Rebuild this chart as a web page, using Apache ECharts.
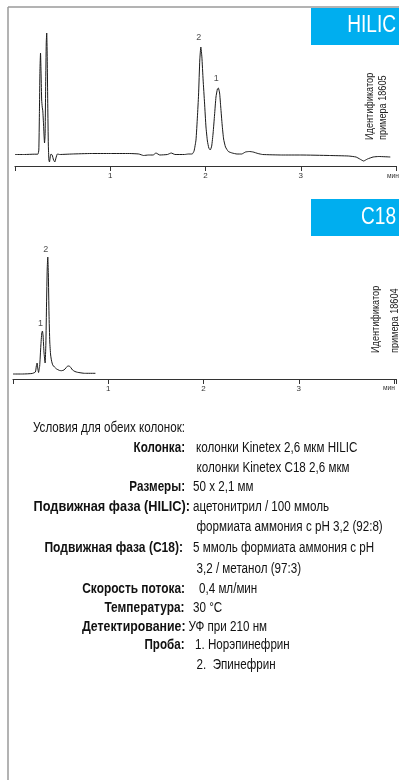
<!DOCTYPE html>
<html>
<head>
<meta charset="utf-8">
<script src="https://cdn.jsdelivr.net/npm/echarts@6/dist/echarts.min.js"></script>
<style>
  html, body { margin: 0; padding: 0; background: #fff; }
  #chart { width: 399px; height: 780px; }
</style>
</head>
<body>
<div id="chart"></div>
<script>
// HILIC chromatogram: retention time (min) and detector response
const hilicTime = [0.0, 0.1, 0.2, 0.24, 0.25, 0.256, 0.262, 0.268, 0.274, 0.28, 0.286, 0.292, 0.3, 0.31,
  0.316, 0.322, 0.328, 0.333, 0.338, 0.344, 0.35, 0.356, 0.362, 0.37, 0.378, 0.39, 0.405, 0.418, 0.43,
  0.445, 0.47, 0.6, 0.8, 1.0, 1.2, 1.3, 1.35, 1.4, 1.45, 1.48, 1.52, 1.6, 1.64, 1.68, 1.78, 1.82, 1.86,
  1.88, 1.9, 1.915, 1.927, 1.94, 1.951, 1.962, 1.975, 1.99, 2.005, 2.02, 2.035, 2.05, 2.065, 2.08, 2.095,
  2.11, 2.125, 2.135, 2.148, 2.16, 2.175, 2.19, 2.21, 2.24, 2.28, 2.33, 2.38, 2.42, 2.46, 2.5, 2.55, 2.6,
  2.8, 3.0, 3.3, 3.5, 3.58, 3.62, 3.66, 3.7, 3.76, 3.82, 3.94];
const hilicSignal = [0.5, 0.5, 0.8, 0.8, 5, 40, 85, 102, 80, 55, 48, 44, 30, 12,
  20, 70, 112, 122, 100, 50, 10, -5, -7, -2, 1, 0, -5, -7, -3,
  1, 0.5, 1, 1.5, 1.5, 1.5, 1, -0.5, 0, 0, 2, 0, 0.5, 2, 0.5, 0.5, 1, 1,
  4, 15, 38, 60, 95, 108, 98, 75, 52, 28, 14, 7, 5, 9, 22, 40,
  58, 66, 67, 62, 48, 30, 16, 8, 3.5, 2, 1, 1, 3, 3.5, 3, 1.5, 0.5,
  0, 0, -0.5, -1, -2, -4, -6, -4, -2, -1.5, -2];

// C18 chromatogram
const c18Time = [0.0, 0.1, 0.2, 0.235, 0.245, 0.253, 0.26, 0.268, 0.28, 0.292, 0.302, 0.309, 0.316,
  0.325, 0.337, 0.345, 0.352, 0.359, 0.365, 0.371, 0.378, 0.386, 0.395, 0.405, 0.417, 0.435, 0.458,
  0.49, 0.51, 0.535, 0.555, 0.575, 0.59, 0.61, 0.625, 0.65, 0.677, 0.75, 0.865];
const c18Signal = [0, 0, 0.5, 2, 8, 11, 6, 1.5, 8, 28, 41, 43, 38,
  22, 11, 30, 70, 105, 117, 100, 60, 32, 19, 13, 9, 7, 5,
  3.5, 3.3, 4, 6, 8, 8, 6, 4, 2.5, 1.7, 0.7, 0.7];

// Peak numbering: 1 = норэпинефрин, 2 = эпинефрин
const hilicPeakNames = ['2', '1'];
const hilicPeakTimes = [1.951, 2.135];
const hilicPeakHeights = [108, 67];
const c18PeakNames = ['1', '2'];
const c18PeakTimes = [0.309, 0.365];
const c18PeakHeights = [43, 117];

const timeTicks = [1, 2, 3];
const timeUnit = 'мин';

const conditionLabels = ['Колонка:', 'Размеры:', 'Подвижная фаза (HILIC):', 'Подвижная фаза (C18):',
  'Скорость потока:', 'Температура:', 'Детектирование:', 'Проба:'];
const conditionValues = [
  ['колонки Kinetex 2,6 мкм HILIC', 'колонки Kinetex C18 2,6 мкм'],
  ['50 x 2,1 мм'],
  ['ацетонитрил / 100 ммоль', 'формиата аммония с pH 3,2 (92:8)'],
  ['5 ммоль формиата аммония с pH', '3,2 / метанол (97:3)'],
  ['0,4 мл/мин'],
  ['30 °C'],
  ['УФ при 210 нм'],
  ['1. Норэпинефрин', '2.  Эпинефрин']
];

const zip = (a, b) => a.map((v, i) => [v, b[i]]);
const peaks = (t, h, n) => t.map((v, i) => [v, h[i], n[i]]);

const SANS = "'Liberation Sans', Arial, sans-serif";
const BLUE = '#00aeef';
const CONDENSE = 0.83;   // condensed typesetting of the captions

function axisX(gridIndex, max) {
  return {
    type: 'value', gridIndex, min: 0, max, interval: 1,
    axisLine: { onZero: false, lineStyle: { color: '#333', width: 1.2 } },
    axisTick: { show: true, length: 5, inside: false, lineStyle: { color: '#333', width: 1 } },
    axisLabel: {
      margin: 6, fontSize: 8, color: '#333', fontFamily: SANS,
      formatter: v => (timeTicks.indexOf(v) >= 0 ? String(v) : '')
    },
    splitLine: { show: false }
  };
}
function axisY(gridIndex, min, max) {
  return { type: 'value', gridIndex, min, max, show: false, splitLine: { show: false } };
}
function trace(idx, data) {
  return {
    type: 'line', xAxisIndex: idx, yAxisIndex: idx, data, symbol: 'none', smooth: 0.15,
    lineStyle: { color: '#1a1a1a', width: 1 }, silent: true
  };
}
function peakLabels(idx, data, dist) {
  return {
    type: 'scatter', xAxisIndex: idx, yAxisIndex: idx, data, symbolSize: 0, silent: true,
    label: {
      show: true, position: 'top', distance: dist, offset: [-2, 0],
      fontSize: 9, color: '#222', fontFamily: SANS,
      formatter: p => p.value[2]
    }
  };
}

const graphic = [];
function txt(x, y, text, font, align, color, extra, scale) {
  graphic.push(Object.assign({
    type: 'text', x, y, scaleX: scale || CONDENSE, silent: true,
    style: { text, font, fill: color, align, verticalAlign: 'middle' }
  }, extra || {}));
}
// frame
graphic.push({ type: 'line', shape: { x1: 8, y1: 7, x2: 399, y2: 7 }, style: { stroke: '#9a9a9a', lineWidth: 1.5 } });
graphic.push({ type: 'line', shape: { x1: 8, y1: 7, x2: 8, y2: 780 }, style: { stroke: '#9a9a9a', lineWidth: 1.5 } });
// column title boxes
function titleBox(y, h, label, cy) {
  graphic.push({ type: 'rect', shape: { x: 311, y, width: 88, height: h }, style: { fill: BLUE } });
  txt(396, cy, label, '23px ' + SANS, 'right', '#fff');
}
titleBox(8, 37, 'HILIC', 26);
titleBox(199, 37, 'C18', 217.5);
// vertical example id
function sideNote(x1, x2, y, id) {
  txt(x1, y, 'Идентификатор', '11px ' + SANS, 'left', '#222', { rotation: Math.PI / 2 });
  txt(x2, y, 'примера ' + id, '11px ' + SANS, 'left', '#222', { rotation: Math.PI / 2 });
}
sideNote(369.5, 382.5, 140, '18605');
sideNote(375.5, 395, 353, '18604');
// time unit
txt(387, 176, timeUnit, '8px ' + SANS, 'left', '#333');
txt(383, 388, timeUnit, '8px ' + SANS, 'left', '#333');

// conditions block
const TXT = '14px ' + SANS;
const BOLD = 'bold 14px ' + SANS;
txt(33, 428, 'Условия для обеих колонок:', TXT, 'left', '#111');
const labelRight = [185, 185, 190, 183, 185, 184.5, 185.5, 184.5];
const labelScale = [0.83, 0.83, 0.91, 0.86, 0.85, 0.85, 0.88, 0.83];
const valueLeft = [[196, 196.5], [193], [193, 196.5], [193, 196.5], [199], [193], [188.5], [195, 196.5]];
const rowY = [[448.5, 468], [487.5], [507.5, 527], [548.5, 569.5], [589], [608], [627], [645.5, 665]];
conditionLabels.forEach((lab, i) => {
  txt(labelRight[i], rowY[i][0], lab, BOLD, 'right', '#111', null, labelScale[i]);
  conditionValues[i].forEach((v, j) => {
    txt(valueLeft[i][j], rowY[i][j], v, TXT, 'left', '#111');
  });
});

const chart = echarts.init(document.getElementById('chart'), null, { renderer: 'canvas' });
chart.setOption({
  animation: false,
  backgroundColor: '#fff',
  grid: [
    { left: 15, right: 0, top: 20, height: 146 },
    { left: 13, right: 0, top: 239, height: 140 }
  ],
  xAxis: [axisX(0, 4), axisX(1, 4.02)],
  yAxis: [axisY(0, -11, 135), axisY(1, -5, 135)],
  series: [
    trace(0, zip(hilicTime, hilicSignal)),
    trace(1, zip(c18Time, c18Signal)),
    peakLabels(0, peaks(hilicPeakTimes, hilicPeakHeights, hilicPeakNames), 5),
    peakLabels(1, peaks(c18PeakTimes, c18PeakHeights, c18PeakNames), 3)
  ],
  graphic
});
</script>
</body>
</html>
